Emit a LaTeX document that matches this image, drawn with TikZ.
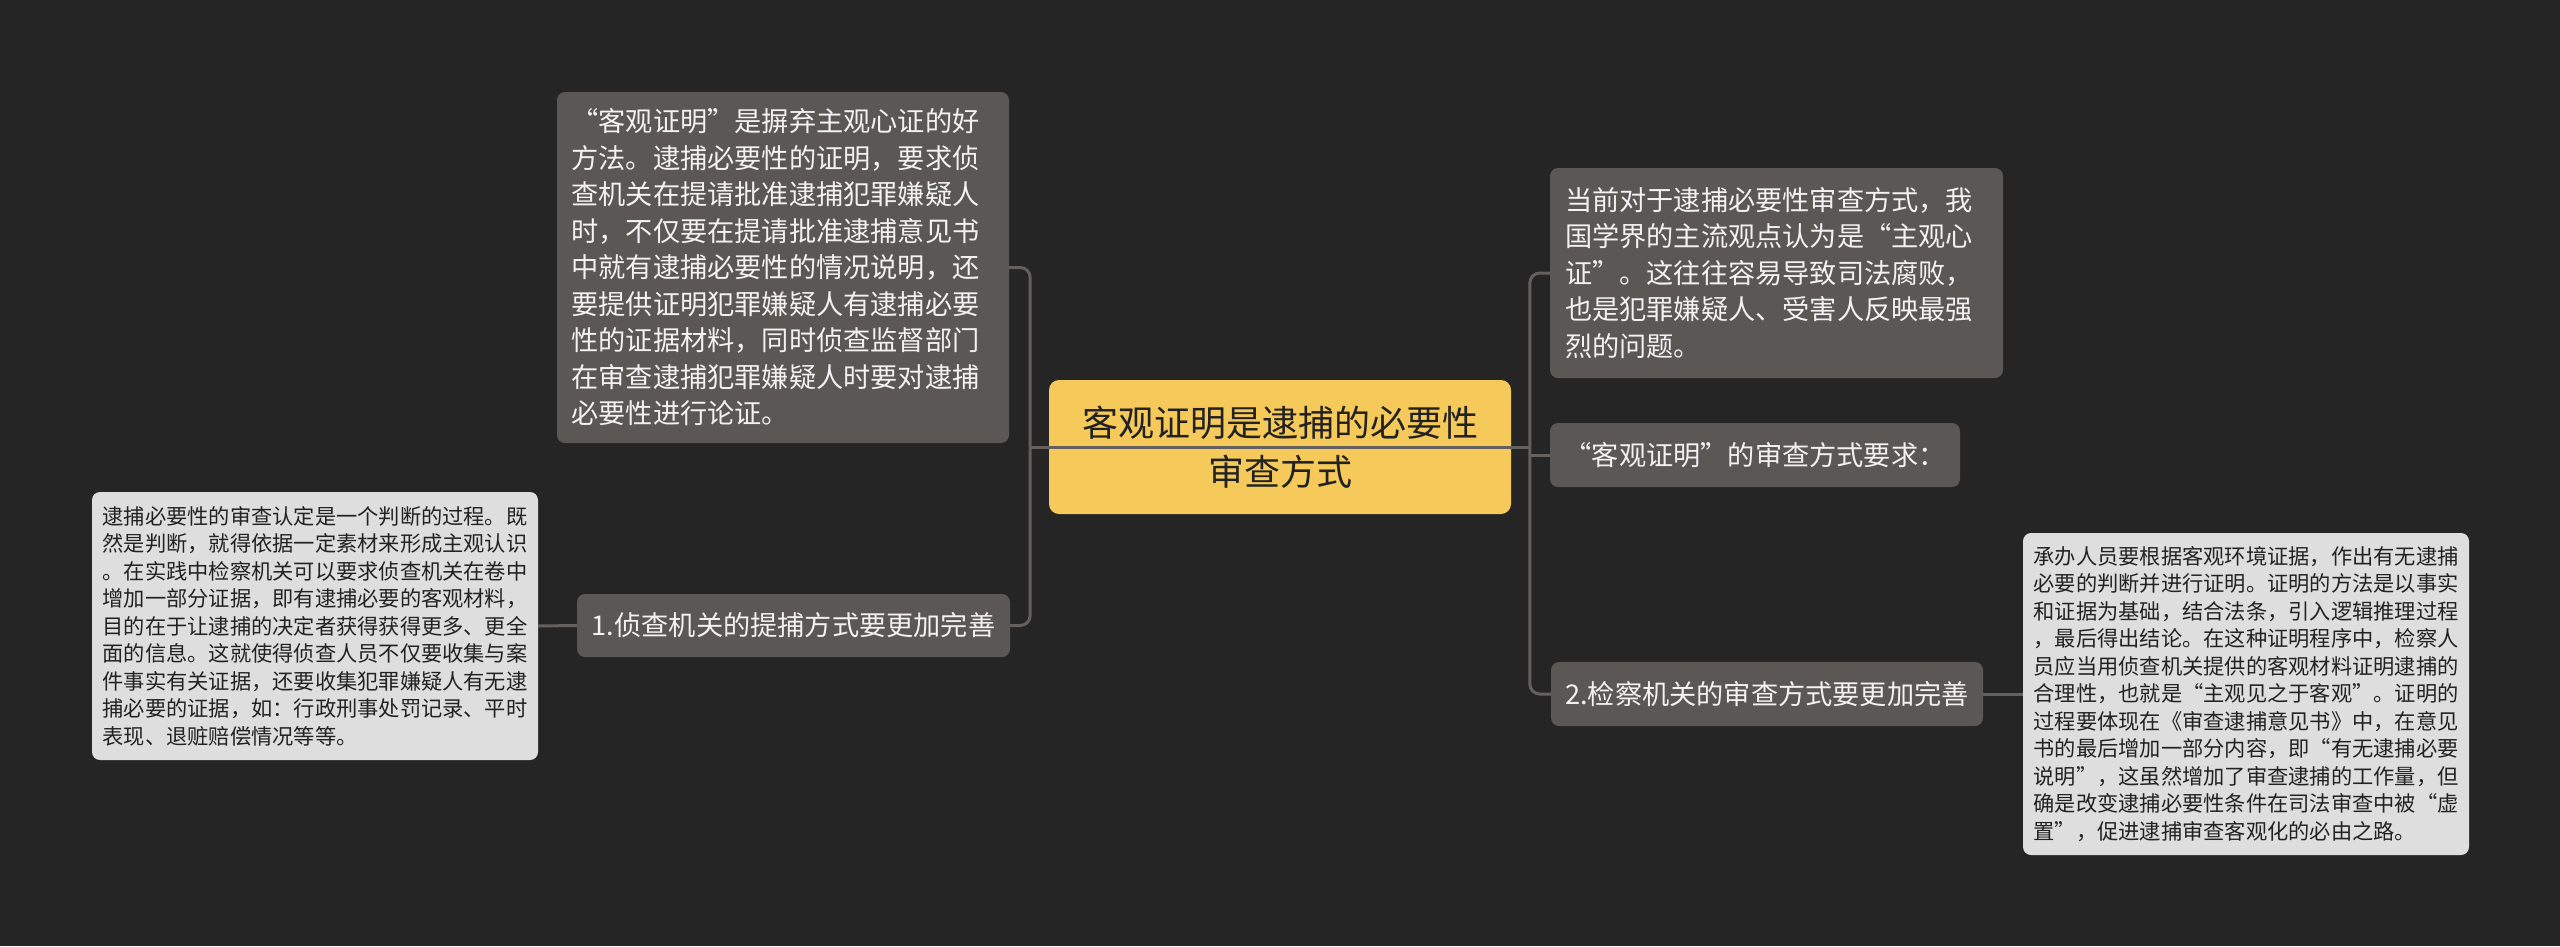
\documentclass[tikz,border=0pt]{standalone}
\usepackage{fontspec}
\setmainfont{Noto Sans CJK SC}
\definecolor{bgcol}{HTML}{252525}
\definecolor{darknode}{HTML}{5A5755}
\definecolor{lightnode}{HTML}{DEDEDE}
\definecolor{rootfill}{HTML}{F5C95A}
\definecolor{conncol}{HTML}{64605E}
\definecolor{lighttext}{HTML}{F2F2F2}
\definecolor{darktext}{HTML}{222222}
\begin{document}
\begin{tikzpicture}[x=1pt,y=-1pt,
  darkbox/.style={fill=darknode, rounded corners=8pt, text=lighttext, inner sep=0pt,
    font=\fontsize{27.2}{36.5}\selectfont},
  lightbox/.style={fill=lightnode, rounded corners=8pt, text=darktext, inner sep=0pt,
    font=\fontsize{21.25}{27.5}\selectfont},
  rootbox/.style={fill=rootfill, rounded corners=10pt, text=darktext, inner sep=0pt,
    align=center, font=\fontsize{36}{49}\selectfont},
  conn/.style={draw=conncol, line width=3pt},
  rconn/.style={conn, rounded corners=10pt}
]
\fill[bgcol] (0,0) rectangle (2560,946);
\useasboundingbox (0,0) rectangle (2560,946);

\node[rootbox, minimum width=462, minimum height=134] (root) at (1280,447)
  {客观证明是逮捕的必要性\\审查方式};

\node[darkbox, minimum width=452, minimum height=351, text width=423, align=left] (tl) at (783,267.5)
  {“客观证明”是摒弃主观心证的好\\
方法。逮捕必要性的证明，要求侦\\
查机关在提请批准逮捕犯罪嫌疑人\\
时，不仅要在提请批准逮捕意见书\\
中就有逮捕必要性的情况说明，还\\
要提供证明犯罪嫌疑人有逮捕必要\\
性的证据材料，同时侦查监督部门\\
在审查逮捕犯罪嫌疑人时要对逮捕\\
必要性进行论证。};

\node[darkbox, minimum width=433, minimum height=63] (bl) at (793.5,625.5)
  {1.侦查机关的提捕方式要更加完善};

\node[lightbox, minimum width=446, minimum height=268, text width=425, align=left] (ll) at (315,626)
  {逮捕必要性的审查认定是一个判断的过程。既\\
然是判断，就得依据一定素材来形成主观认识\\
。在实践中检察机关可以要求侦查机关在卷中\\
增加一部分证据，即有逮捕必要的客观材料，\\
目的在于让逮捕的决定者获得获得更多、更全\\
面的信息。这就使得侦查人员不仅要收集与案\\
件事实有关证据，还要收集犯罪嫌疑人有无逮\\
捕必要的证据，如：行政刑事处罚记录、平时\\
表现、退赃赔偿情况等等。};

\node[darkbox, minimum width=453, minimum height=210, text width=423, align=left] (rt) at (1776.5,273)
  {当前对于逮捕必要性审查方式，我\\
国学界的主流观点认为是“主观心\\
证”。这往往容易导致司法腐败，\\
也是犯罪嫌疑人、受害人反映最强\\
烈的问题。};

\node[darkbox, minimum width=410, minimum height=64] (rm) at (1755,455)
  {“客观证明”的审查方式要求：};

\node[darkbox, minimum width=432, minimum height=64] (rb) at (1767,694)
  {2.检察机关的审查方式要更加完善};

\node[lightbox, minimum width=446, minimum height=322, text width=425, align=left] (rr) at (2246,694)
  {承办人员要根据客观环境证据，作出有无逮捕\\
必要的判断并进行证明。证明的方法是以事实\\
和证据为基础，结合法条，引入逻辑推理过程\\
，最后得出结论。在这种证明程序中，检察人\\
员应当用侦查机关提供的客观材料证明逮捕的\\
合理性，也就是“主观见之于客观”。证明的\\
过程要体现在《审查逮捕意见书》中，在意见\\
书的最后增加一部分内容，即“有无逮捕必要\\
说明”，这虽然增加了审查逮捕的工作量，但\\
确是改变逮捕必要性条件在司法审查中被“虚\\
置”，促进逮捕审查客观化的必由之路。};

% connectors
\draw[rconn] (tl.east) -- ++(21,0) |- (bl.east);
\draw[conn] ([xshift=-19pt]root.west) -- ([xshift=19pt]root.east);
\draw[rconn] (rt.west) -- ++(-20,0) |- (rb.west);
\draw[conn] ([xshift=-20pt]rm.west) -- (rm.west);
\draw[conn] (bl.west) -- (ll.east);
\draw[conn] (rb.east) -- (rr.west);
\end{tikzpicture}
\end{document}
